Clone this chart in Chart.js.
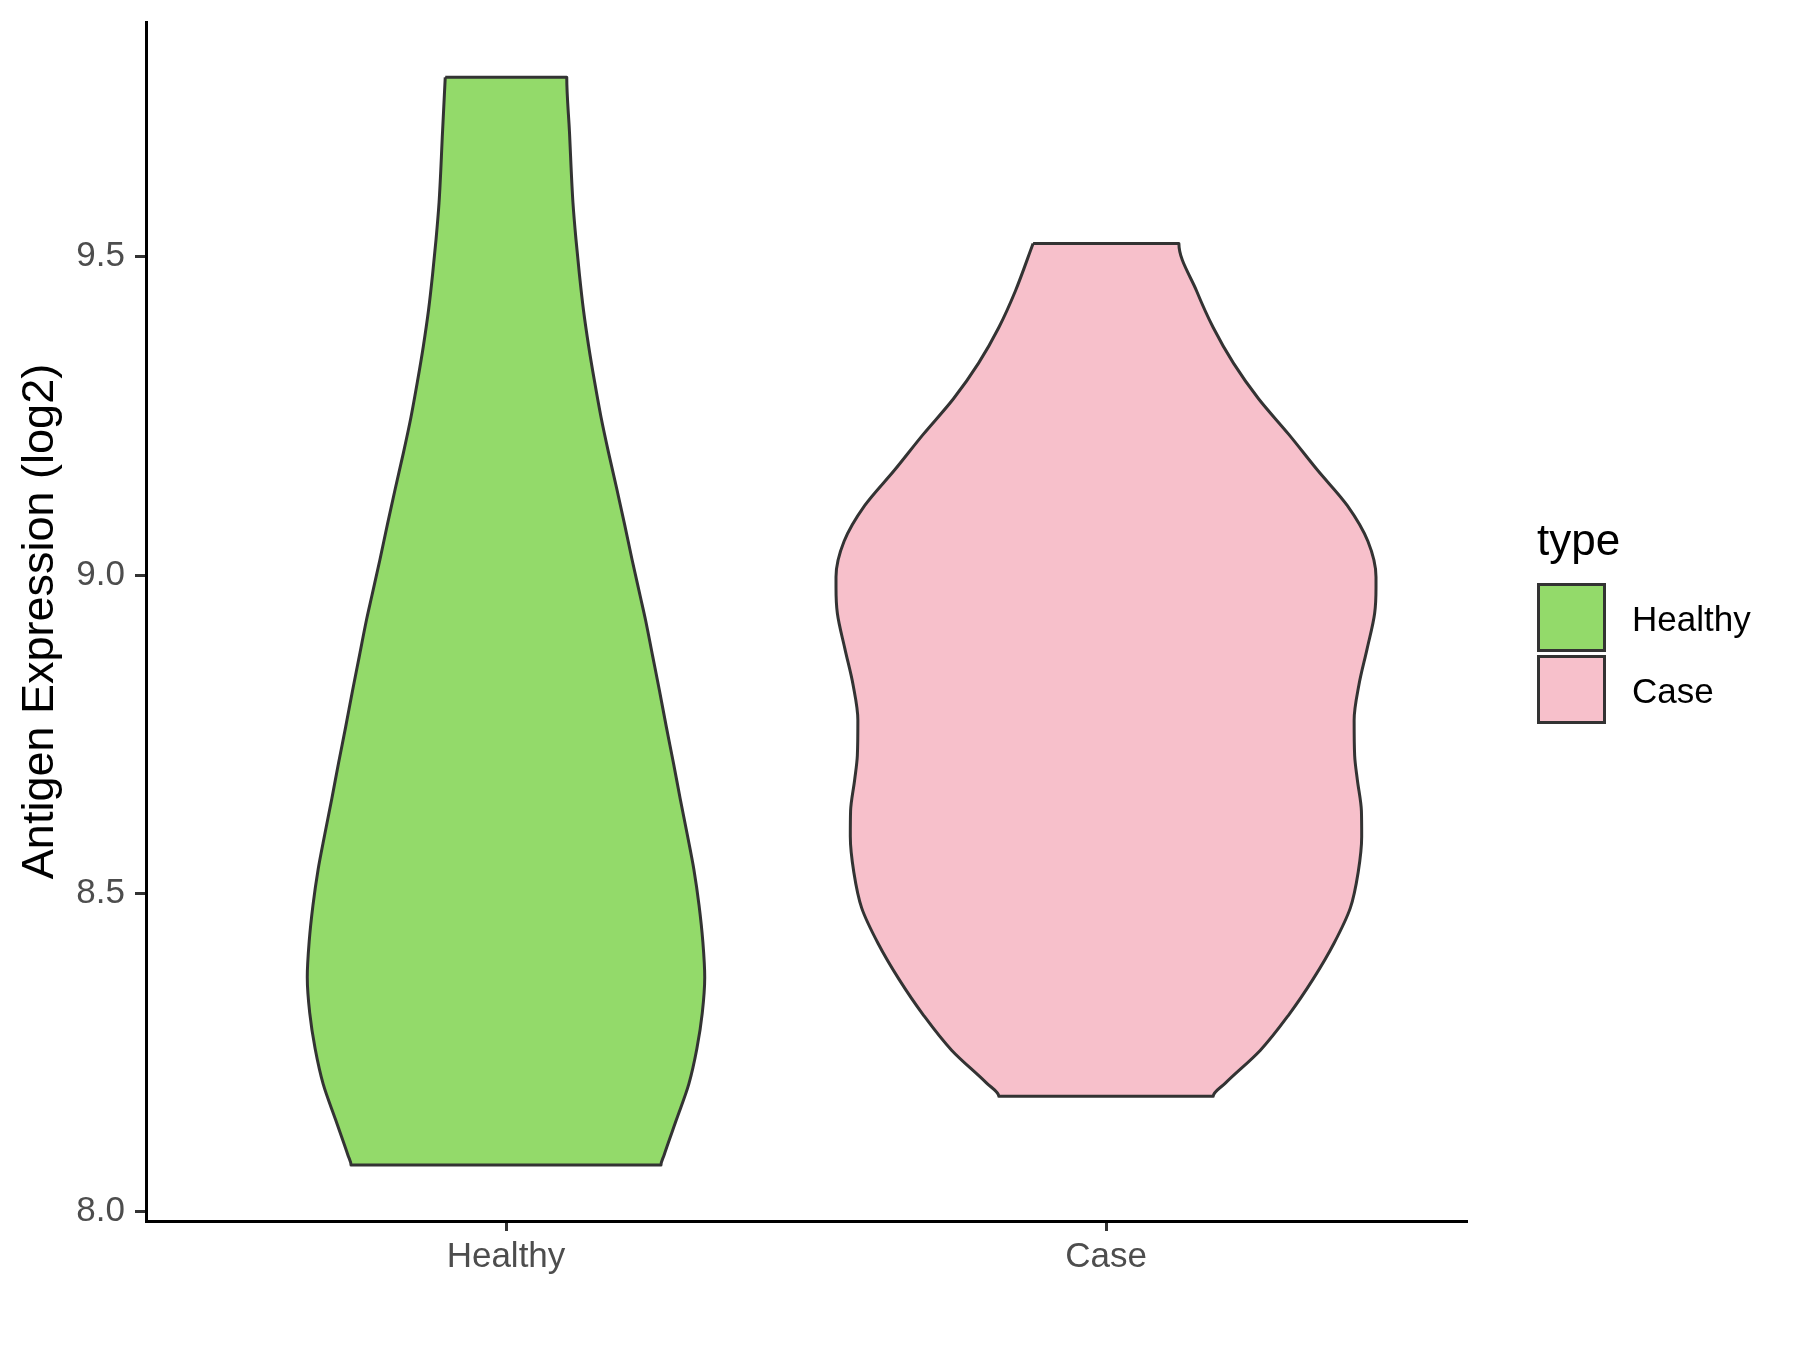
<!DOCTYPE html>
<html>
<head>
<meta charset="utf-8">
<script src="https://cdn.jsdelivr.net/npm/chart.js@4.4.0/dist/chart.umd.min.js"></script>
<style>
  html, body { margin: 0; padding: 0; background: #ffffff; }
  #wrap { position: relative; width: 1800px; height: 1350px; }
  #legend { position: absolute; left: 0; top: 0; font-family: 'Liberation Sans', Arial, Helvetica, sans-serif; }
  .lg-title { position: absolute; font-size: 44px; line-height: 1; color: #000; white-space: nowrap; }
  .lg-box { position: absolute; box-sizing: border-box; width: 69px; height: 69px; border: 3px solid #333333; }
  .lg-label { position: absolute; font-size: 35px; line-height: 1; color: #000; white-space: nowrap; }
</style>
</head>
<body>
<div id="wrap">
  <canvas id="c" width="1800" height="1350"></canvas>
  <div id="legend"></div>
</div>
<script>
// ---------------- data ----------------
const categories = ['Healthy', 'Case'];
const legendTitle = 'type';
const yAxisTitle = 'Antigen Expression (log2)';
const yTicks = [8.0, 8.5, 9.0, 9.5];

// violin outline for Healthy: expression values (bottom -> top) and relative density width (1 = widest violin)
const healthyValues = [8.073, 8.088, 8.144, 8.200, 8.256, 8.312, 8.368, 8.424, 8.481, 8.537, 8.593, 8.649, 8.705, 8.761, 8.817, 8.873, 8.929, 8.967, 9.024, 9.080, 9.136, 9.192, 9.248, 9.304, 9.360, 9.416, 9.472, 9.528, 9.585, 9.697, 9.782];
const healthyDensity = [0.574, 0.585, 0.631, 0.677, 0.707, 0.727, 0.736, 0.729, 0.715, 0.696, 0.671, 0.645, 0.620, 0.594, 0.569, 0.543, 0.517, 0.497, 0.467, 0.439, 0.410, 0.380, 0.352, 0.328, 0.306, 0.287, 0.272, 0.259, 0.248, 0.235, 0.225];

// violin outline for Case
const caseValues = [8.181, 8.202, 8.253, 8.309, 8.365, 8.421, 8.477, 8.533, 8.589, 8.629, 8.678, 8.716, 8.772, 8.828, 8.884, 8.940, 8.980, 8.997, 9.053, 9.109, 9.165, 9.221, 9.277, 9.333, 9.389, 9.446, 9.521];
const caseDensity = [0.397, 0.443, 0.571, 0.677, 0.767, 0.844, 0.905, 0.934, 0.947, 0.946, 0.931, 0.921, 0.919, 0.937, 0.967, 0.995, 1.000, 1.000, 0.970, 0.894, 0.783, 0.677, 0.565, 0.472, 0.397, 0.336, 0.270];

// ---------------- style ----------------
const fillColors = ['#93DA6A', '#F7C0CB'];
const outlineColor = '#333333';
const violinHalfWidth = 0.45;   // ggplot default width 0.9
const FONT = "'Liberation Sans', Arial, Helvetica, sans-serif";

// closed outline: start top-left, down the left side, across the bottom, up the right side, back to top-left
function violinOutline(center, values, density) {
  const pts = [];
  for (let i = values.length - 1; i >= 0; i--) {
    pts.push({ x: center - density[i] * violinHalfWidth, y: values[i] });
  }
  for (let i = 0; i < values.length; i++) {
    pts.push({ x: center + density[i] * violinHalfWidth, y: values[i] });
  }
  pts.push({ x: pts[0].x, y: pts[0].y });
  return pts;
}

const series = [
  { label: categories[0], values: healthyValues, density: healthyDensity },
  { label: categories[1], values: caseValues, density: caseDensity }
];

const datasets = series.map((s, i) => ({
  label: s.label,
  data: violinOutline(i + 1, s.values, s.density),
  indexAxis: 'y',
  showLine: true,
  fill: 'shape',
  backgroundColor: fillColors[i],
  borderColor: outlineColor,
  borderWidth: 3,
  borderJoinStyle: 'round',
  pointRadius: 0,
  pointHoverRadius: 0,
  cubicInterpolationMode: 'monotone'
}));

Chart.defaults.font.family = FONT;

const chart = new Chart(document.getElementById('c'), {
  type: 'scatter',
  data: { datasets },
  options: {
    responsive: false,
    animation: false,
    devicePixelRatio: 1,
    layout: { padding: { top: 22, right: 334, bottom: 0, left: 0 } },
    plugins: { legend: { display: false }, tooltip: { enabled: false } },
    scales: {
      x: {
        type: 'linear',
        min: 0.4,
        max: 2.6,
        afterBuildTicks: (s) => { s.ticks = categories.map((c, i) => ({ value: i + 1 })); },
        afterFit: (s) => { s.height = 129; s.paddingLeft = 0; s.paddingRight = 0; },
        ticks: {
          callback: (v) => categories[Math.round(v) - 1] || '',
          font: { size: 35 },
          color: '#4D4D4D',
          padding: 5,
          autoSkip: false,
          maxRotation: 0
        },
        grid: { display: true, drawOnChartArea: false, drawTicks: true, tickLength: 10, color: '#333333', lineWidth: 3 },
        border: { display: true, color: '#000000', width: 3 }
      },
      y: {
        type: 'linear',
        min: 7.985,
        max: 9.869,
        afterBuildTicks: (s) => { s.ticks = yTicks.map(v => ({ value: v })); },
        afterFit: (s) => { s.width = 146; s.paddingTop = 0; s.paddingBottom = 0; },
        ticks: {
          callback: (v) => Number(v).toFixed(1),
          font: { size: 35 },
          color: '#4D4D4D',
          padding: 10
        },
        grid: { display: true, drawOnChartArea: false, drawTicks: true, tickLength: 11, color: '#333333', lineWidth: 3 },
        border: { display: true, color: '#000000', width: 3 },
        title: { display: true, text: yAxisTitle, color: '#000000', font: { size: 45 }, padding: { top: 14, bottom: 0 } }
      }
    }
  }
});

// ---------------- legend (HTML, built from chart datasets) ----------------
(function buildLegend() {
  const lg = document.getElementById('legend');
  const t = document.createElement('div');
  t.className = 'lg-title';
  t.textContent = legendTitle;
  t.style.left = '1537px';
  t.style.top = (555 - 0.8465 * 44) + 'px';
  lg.appendChild(t);
  chart.data.datasets.forEach((ds, i) => {
    const top = 583 + i * 72;
    const b = document.createElement('div');
    b.className = 'lg-box';
    b.style.left = '1537px';
    b.style.top = top + 'px';
    b.style.background = ds.backgroundColor;
    b.style.borderColor = ds.borderColor;
    lg.appendChild(b);
    const l = document.createElement('div');
    l.className = 'lg-label';
    l.textContent = ds.label;
    l.style.left = '1632px';
    l.style.top = (631 + i * 72 - 0.8465 * 35) + 'px';
    lg.appendChild(l);
  });
})();
</script>
</body>
</html>
